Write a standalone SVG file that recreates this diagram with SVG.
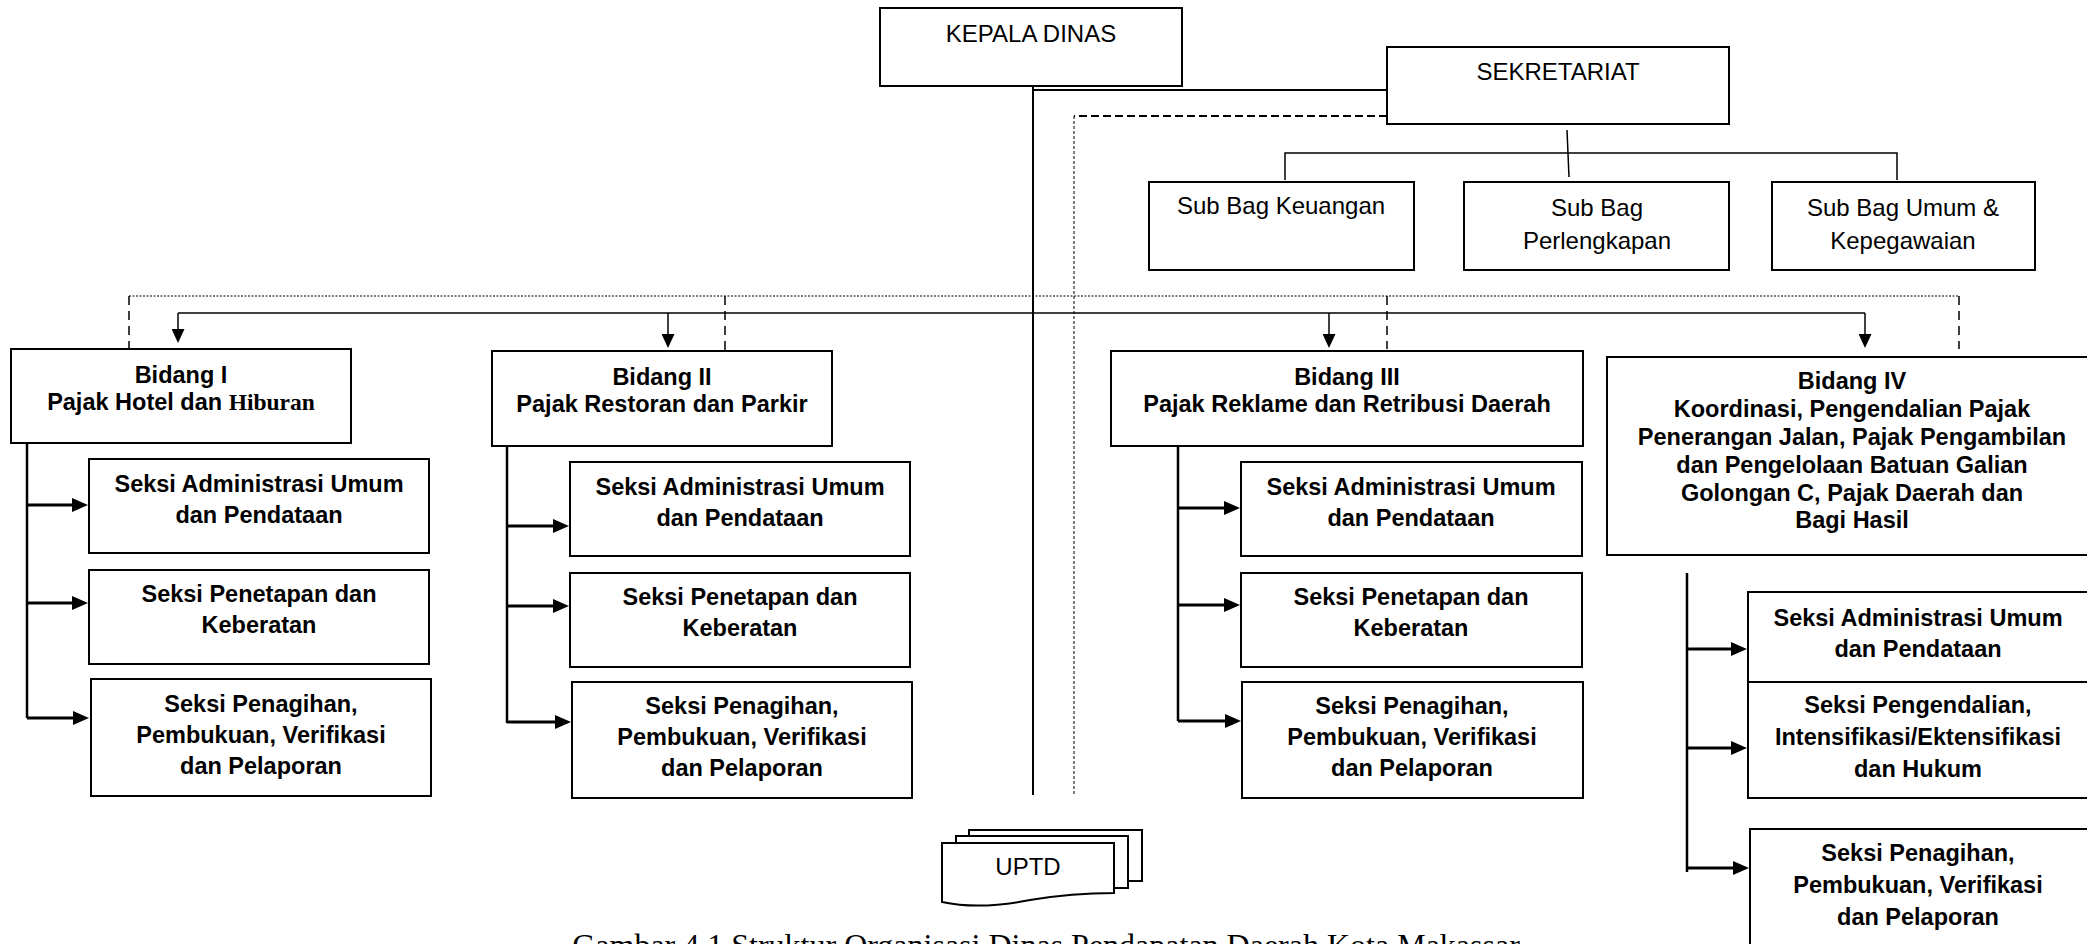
<svg xmlns="http://www.w3.org/2000/svg" width="2087" height="944" viewBox="0 0 2087 944">
<style>
.box{fill:#fff;stroke:#000;stroke-width:2}
.t{font-family:"Liberation Sans",Arial,sans-serif;font-size:24px;text-anchor:middle;fill:#000}
.b{font-family:"Liberation Sans",Arial,sans-serif;font-size:23.5px;font-weight:bold;text-anchor:middle;fill:#000}
.sb{font-family:"Liberation Serif","Times New Roman",serif;font-weight:bold}
.cap{font-family:"Liberation Serif","Times New Roman",serif;font-size:32px;text-anchor:middle;fill:#000}
.ln{fill:none;stroke:#000}
</style>
<defs>
<marker id="arrD" markerUnits="userSpaceOnUse" markerWidth="14" markerHeight="13" viewBox="0 0 14 13" refX="0" refY="6.5" orient="auto"><path d="M0,0 L14,6.5 L0,13 Z" fill="#000"/></marker>
<marker id="arrR" markerUnits="userSpaceOnUse" markerWidth="16" markerHeight="14" viewBox="0 0 16 14" refX="0" refY="7" orient="auto"><path d="M0,0 L16,7 L0,14 Z" fill="#000"/></marker>
</defs>

<g id="connectors">
<path class="ln" stroke-width="2" d="M1033,66 V795"/>
<path class="ln" stroke-width="2" d="M1033,90 H1387"/>
<path class="ln" stroke-width="2" stroke-dasharray="8 4" d="M1387,116 H1074"/>
<path class="ln" stroke-width="1" stroke-dasharray="3 2" d="M1074,116 V795"/>
<path class="ln" stroke-width="1.5" d="M1567,130 L1569,177"/>
<path class="ln" stroke-width="1.5" d="M1285,180 V153 H1897 V180"/>
<path class="ln" stroke-width="1" stroke-dasharray="2 1.5" d="M129,296 H1959"/>
<path class="ln" stroke-width="1.5" stroke-dasharray="9 6" d="M129,296 V349 M725,296 V351 M1387,296 V349 M1959,296 V349"/>
<path class="ln" stroke-width="1.5" d="M178,313 H1865"/>
<path class="ln" stroke-width="1.5" marker-end="url(#arrD)" d="M178,313 V329"/>
<path class="ln" stroke-width="1.5" marker-end="url(#arrD)" d="M668,313 V334"/>
<path class="ln" stroke-width="1.5" marker-end="url(#arrD)" d="M1329,313 V334"/>
<path class="ln" stroke-width="1.5" marker-end="url(#arrD)" d="M1865,313 V334"/>
<path class="ln" stroke-width="2.5" d="M27,443 V718 M507,446 V723 M1178,446 V721 M1687,573 V872"/>
<path class="ln" stroke-width="3" marker-end="url(#arrR)" d="M27,505 H72"/>
<path class="ln" stroke-width="3" marker-end="url(#arrR)" d="M27,603 H72"/>
<path class="ln" stroke-width="3" marker-end="url(#arrR)" d="M27,718 H73"/>
<path class="ln" stroke-width="3" marker-end="url(#arrR)" d="M507,526 H553"/>
<path class="ln" stroke-width="3" marker-end="url(#arrR)" d="M507,606 H553"/>
<path class="ln" stroke-width="3" marker-end="url(#arrR)" d="M507,722 H555"/>
<path class="ln" stroke-width="3" marker-end="url(#arrR)" d="M1178,508 H1224"/>
<path class="ln" stroke-width="3" marker-end="url(#arrR)" d="M1178,605 H1224"/>
<path class="ln" stroke-width="3" marker-end="url(#arrR)" d="M1178,721 H1225"/>
<path class="ln" stroke-width="3" marker-end="url(#arrR)" d="M1687,649 H1731"/>
<path class="ln" stroke-width="3" marker-end="url(#arrR)" d="M1687,748 H1731"/>
<path class="ln" stroke-width="3" marker-end="url(#arrR)" d="M1687,868 H1733"/>
</g>

<g id="kepala-dinas">
<rect class="box" x="880" y="8" width="302" height="78"/>
<text class="t" x="1031" y="42">KEPALA DINAS</text>
</g>
<g id="sekretariat">
<rect class="box" x="1387" y="47" width="342" height="77"/>
<text class="t" x="1558" y="80">SEKRETARIAT</text>
</g>
<g id="subbag-keuangan">
<rect class="box" x="1149" y="182" width="265" height="88"/>
<text class="t" x="1281" y="214">Sub Bag Keuangan</text>
</g>
<g id="subbag-perlengkapan">
<rect class="box" x="1464" y="182" width="265" height="88"/>
<text class="t" x="1597" y="216">Sub Bag</text>
<text class="t" x="1597" y="249">Perlengkapan</text>
</g>
<g id="subbag-umum">
<rect class="box" x="1772" y="182" width="263" height="88"/>
<text class="t" x="1903" y="216">Sub Bag Umum &amp;</text>
<text class="t" x="1903" y="249">Kepegawaian</text>
</g>

<g id="bidang-1">
<rect class="box" x="11" y="349" width="340" height="94"/>
<text class="b" x="181" y="383">Bidang I</text>
<text class="b" x="181" y="410">Pajak Hotel dan <tspan class="sb">Hiburan</tspan></text>
</g>
<g id="bidang-2">
<rect class="box" x="492" y="351" width="340" height="95"/>
<text class="b" x="662" y="385">Bidang II</text>
<text class="b" x="662" y="412">Pajak Restoran dan Parkir</text>
</g>
<g id="bidang-3">
<rect class="box" x="1111" y="351" width="472" height="95"/>
<text class="b" x="1347" y="385">Bidang III</text>
<text class="b" x="1347" y="412">Pajak Reklame dan Retribusi Daerah</text>
</g>
<g id="bidang-4">
<rect class="box" x="1607" y="357" width="495" height="198"/>
<text class="b" x="1852" y="389">Bidang IV</text>
<text class="b" x="1852" y="417">Koordinasi, Pengendalian Pajak</text>
<text class="b" x="1852" y="445">Penerangan Jalan, Pajak Pengambilan</text>
<text class="b" x="1852" y="473">dan Pengelolaan Batuan Galian</text>
<text class="b" x="1852" y="501">Golongan C, Pajak Daerah dan</text>
<text class="b" x="1852" y="528">Bagi Hasil</text>
</g>

<g id="b1-seksi-1">
<rect class="box" x="89" y="459" width="340" height="94"/>
<text class="b" x="259" y="492">Seksi Administrasi Umum</text>
<text class="b" x="259" y="523">dan Pendataan</text>
</g>
<g id="b1-seksi-2">
<rect class="box" x="89" y="570" width="340" height="94"/>
<text class="b" x="259" y="602">Seksi Penetapan dan</text>
<text class="b" x="259" y="633">Keberatan</text>
</g>
<g id="b1-seksi-3">
<rect class="box" x="91" y="679" width="340" height="117"/>
<text class="b" x="261" y="712">Seksi Penagihan,</text>
<text class="b" x="261" y="743">Pembukuan, Verifikasi</text>
<text class="b" x="261" y="774">dan Pelaporan</text>
</g>

<g id="b2-seksi-1">
<rect class="box" x="570" y="462" width="340" height="94"/>
<text class="b" x="740" y="495">Seksi Administrasi Umum</text>
<text class="b" x="740" y="526">dan Pendataan</text>
</g>
<g id="b2-seksi-2">
<rect class="box" x="570" y="573" width="340" height="94"/>
<text class="b" x="740" y="605">Seksi Penetapan dan</text>
<text class="b" x="740" y="636">Keberatan</text>
</g>
<g id="b2-seksi-3">
<rect class="box" x="572" y="682" width="340" height="116"/>
<text class="b" x="742" y="714">Seksi Penagihan,</text>
<text class="b" x="742" y="745">Pembukuan, Verifikasi</text>
<text class="b" x="742" y="776">dan Pelaporan</text>
</g>

<g id="b3-seksi-1">
<rect class="box" x="1241" y="462" width="341" height="94"/>
<text class="b" x="1411" y="495">Seksi Administrasi Umum</text>
<text class="b" x="1411" y="526">dan Pendataan</text>
</g>
<g id="b3-seksi-2">
<rect class="box" x="1241" y="573" width="341" height="94"/>
<text class="b" x="1411" y="605">Seksi Penetapan dan</text>
<text class="b" x="1411" y="636">Keberatan</text>
</g>
<g id="b3-seksi-3">
<rect class="box" x="1242" y="682" width="341" height="116"/>
<text class="b" x="1412" y="714">Seksi Penagihan,</text>
<text class="b" x="1412" y="745">Pembukuan, Verifikasi</text>
<text class="b" x="1412" y="776">dan Pelaporan</text>
</g>

<g id="b4-seksi-1">
<rect class="box" x="1748" y="592" width="345" height="90"/>
<text class="b" x="1918" y="626">Seksi Administrasi Umum</text>
<text class="b" x="1918" y="657">dan Pendataan</text>
</g>
<g id="b4-seksi-2">
<rect class="box" x="1748" y="682" width="345" height="116"/>
<text class="b" x="1918" y="713">Seksi Pengendalian,</text>
<text class="b" x="1918" y="745">Intensifikasi/Ektensifikasi</text>
<text class="b" x="1918" y="777">dan Hukum</text>
</g>
<g id="b4-seksi-3">
<rect class="box" x="1750" y="829" width="345" height="130"/>
<text class="b" x="1918" y="861">Seksi Penagihan,</text>
<text class="b" x="1918" y="893">Pembukuan, Verifikasi</text>
<text class="b" x="1918" y="925">dan Pelaporan</text>
</g>

<g id="uptd">
<rect class="box" x="969" y="830" width="173" height="51"/>
<rect class="box" x="956" y="836" width="172" height="52"/>
<path class="box" d="M942,843 H1114 V893 C1090,893 1060,895 1030,900 C1000,906 970,908 942,902 Z"/>
<text class="t" x="1028" y="875">UPTD</text>
</g>

<g id="caption">
<text class="cap" x="1046" y="956">Gambar 4.1 Struktur Organisasi Dinas Pendapatan Daerah Kota Makassar</text>
</g>
</svg>
